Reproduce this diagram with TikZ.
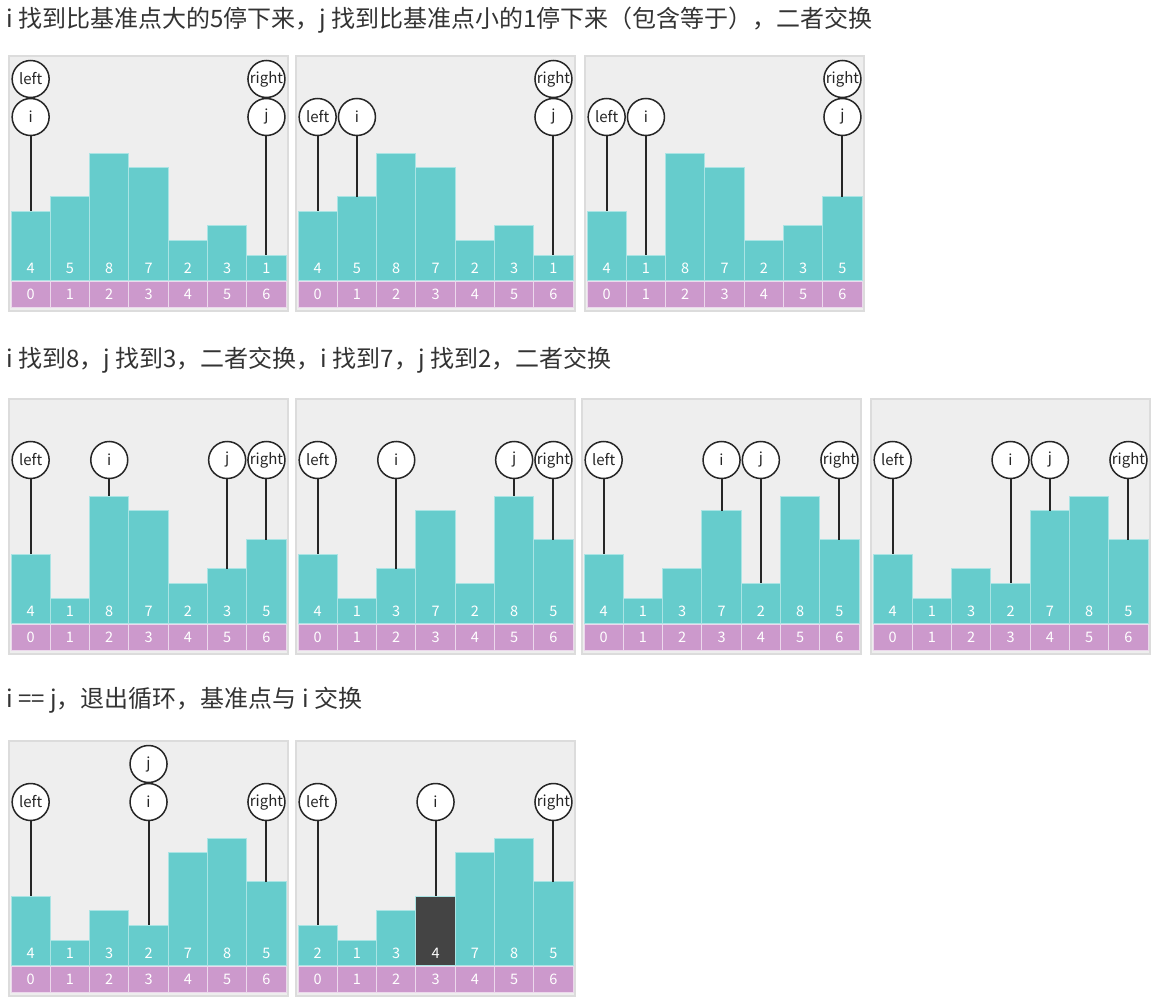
\documentclass[tikz,border=0pt]{standalone}
\usepackage{fontspec}
\setmainfont{Noto Sans CJK SC}
\usepackage{xcolor}
\usepackage{tikz}
\definecolor{PanelGray}{RGB}{238,238,238}
\definecolor{PanelEdge}{RGB}{220,220,220}
\definecolor{BarTeal}{RGB}{102,204,204}
\definecolor{BarEdge}{RGB}{170,228,228}
\definecolor{IdxPurple}{RGB}{204,153,204}
\definecolor{IdxEdge}{RGB}{236,216,236}
\definecolor{PivotDark}{RGB}{68,68,68}
\definecolor{CapText}{RGB}{51,51,51}

\begin{document}
\begin{tikzpicture}[x=1pt,y=-1pt,
    captext/.style={anchor=west, inner sep=0pt, text=CapText, font=\fontsize{24}{24}\selectfont},
    bar/.style={draw=BarEdge, line width=0.9pt, minimum width=39.3pt, inner sep=0pt, outer sep=0pt, anchor=south},
    num/.style={text=white, font=\fontsize{14.5}{14.5}\selectfont, inner sep=0pt},
    idx/.style={draw=IdxEdge, fill=IdxPurple, line width=0.9pt, minimum width=39.3pt, minimum height=26pt, inner sep=0pt, text=white, font=\fontsize{14.5}{14.5}\selectfont},
    ptr/.style={circle, draw=black!85, line width=1.5pt, fill=white, minimum size=37pt, inner sep=0pt, text=black!85, font=\fontsize{15}{15}\selectfont},
    ptrline/.style={draw=black!85, line width=2pt}]
  \useasboundingbox (0,0) rectangle (1157,1000);
  \node[captext] (cap1) at (6,20) {i 找到比基准点大的5停下来，j 找到比基准点小的1停下来（包含等于），二者交换};
  \node[captext] (cap2) at (6,360) {i 找到8，j 找到3，二者交换，i 找到7，j 找到2，二者交换};
  \node[captext] (cap3) at (6,700) {i == j，退出循环，基准点与 i 交换};
  \foreach \pn/\bx/\ty/\vals/\ptrs/\dk in {
      a/11/57/{4,5,8,7,2,3,1}/{left/0/1,i/0/2,right/6/1,j/6/2}/9,
      b/298/57/{4,5,8,7,2,3,1}/{left/0/2,i/1/2,right/6/1,j/6/2}/9,
      c/587/57/{4,1,8,7,2,3,5}/{left/0/2,i/1/2,right/6/1,j/6/2}/9,
      d/11/400/{4,1,8,7,2,3,5}/{left/0/2,i/2/2,j/5/2,right/6/2}/9,
      e/298/400/{4,1,3,7,2,8,5}/{left/0/2,i/2/2,j/5/2,right/6/2}/9,
      f/584/400/{4,1,3,7,2,8,5}/{left/0/2,i/3/2,j/4/2,right/6/2}/9,
      g/873/400/{4,1,3,2,7,8,5}/{left/0/2,i/3/2,j/4/2,right/6/2}/9,
      h/11/742/{4,1,3,2,7,8,5}/{left/0/2,i/3/2,j/3/1,right/6/2}/9,
      k/298/742/{2,1,3,4,7,8,5}/{left/0/2,i/3/2,right/6/2}/3} {
    \fill[PanelEdge] (\bx-3,\ty-2) rectangle (\bx+278,\ty+255);
    \fill[PanelGray] (\bx-1,\ty) rectangle (\bx+276,\ty+253);
    \foreach \v [count=\n from 0] in \vals {
      \pgfmathsetmacro{\cx}{\bx+(\n+0.5)*39.3}
      \ifnum\n=\dk \def\barfill{PivotDark}\else \def\barfill{BarTeal}\fi
      \node[bar, fill=\barfill, minimum height={10.4+14.57*\v}] (\pn-b\n) at (\cx,\ty+223) {};
      \node[num] at (\cx,\ty+211) {\v};
      \node[idx] (\pn-x\n) at (\cx,\ty+237) {\n};
    }
    \foreach \nm/\k/\lv in \ptrs {
      \pgfmathsetmacro{\cx}{\bx+(\k+0.5)*39.3}
      \pgfmathsetmacro{\cy}{\lv==1 ? \ty+22 : \ty+60}
      \node[ptr] (\pn-\nm) at (\cx,\cy) {\nm};
      \ifnum\lv=2 \draw[ptrline] (\pn-\nm) -- (\pn-b\k.north); \fi
    }
  }
\end{tikzpicture}
\end{document}
